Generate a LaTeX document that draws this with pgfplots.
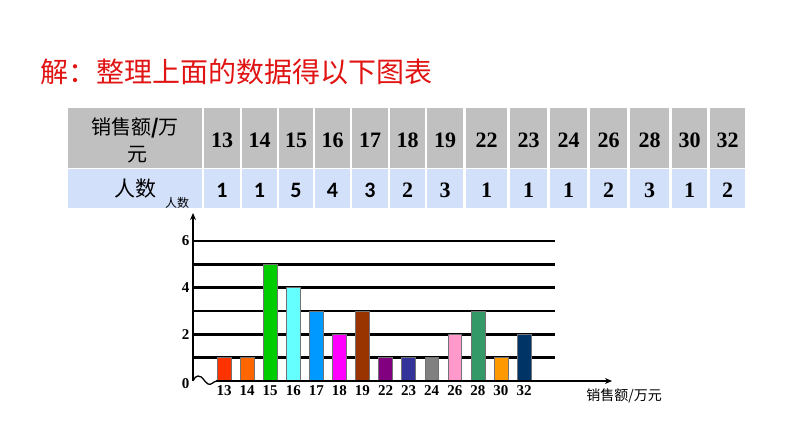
\documentclass[border=0pt]{standalone}
\usepackage{pgfplots}
\pgfplotsset{compat=1.18}
\usepackage{fontspec}
\setmainfont{Liberation Serif}
\newfontfamily\cjk{Noto Sans CJK SC}
\newfontfamily\calb{Carlito}
\usetikzlibrary{arrows.meta}
\definecolor{c0}{RGB}{255,51,0}
\definecolor{c1}{RGB}{255,102,0}
\definecolor{c2}{RGB}{0,204,0}
\definecolor{c3}{RGB}{102,255,255}
\definecolor{c4}{RGB}{0,153,255}
\definecolor{c5}{RGB}{255,0,255}
\definecolor{c6}{RGB}{153,51,0}
\definecolor{c7}{RGB}{128,0,128}
\definecolor{c8}{RGB}{51,51,153}
\definecolor{c9}{RGB}{128,128,128}
\definecolor{c10}{RGB}{255,153,204}
\definecolor{c11}{RGB}{51,153,102}
\definecolor{c12}{RGB}{255,153,0}
\definecolor{c13}{RGB}{0,51,102}
\definecolor{tgray}{RGB}{192,192,192}
\definecolor{tblue}{RGB}{210,224,250}
\definecolor{tred}{RGB}{225,20,20}
\begin{document}
\begin{tikzpicture}
\path[use as bounding box] (0,0) rectangle (794pt,447pt);
% title
\node[anchor=west, text=tred, font=\cjk\fontsize{28}{28}\selectfont, inner sep=0pt] at (40pt,375pt) {解：整理上面的数据得以下图表};
% table
\fill[tgray] (68pt,279pt) rectangle (202pt,339pt);
\fill[tblue] (68pt,239pt) rectangle (202pt,278pt);
\node[font=\cjk\fontsize{20}{20}\selectfont, inner sep=0pt] at (135pt,319pt) {销售额\textbf{/}万};
\node[font=\cjk\fontsize{20}{20}\selectfont, inner sep=0pt] at (137pt,292pt) {元};
\node[font=\cjk\fontsize{21}{21}\selectfont, inner sep=0pt] at (135pt,258pt) {人数};
\foreach \l/\r/\h/\v/\f in {204/240/13/1/\calb, 242/277/14/1/\calb, 279/313/15/5/\calb, 315/350/16/4/\calb, 352/388/17/3/\calb, 390/425/18/2/\rmfamily, 427/463/19/3/\rmfamily, 466/507/22/1/\rmfamily, 510/547/23/1/\rmfamily, 550/587/24/1/\rmfamily, 590/627/26/2/\rmfamily, 630/669/28/3/\rmfamily, 672/707/30/1/\rmfamily, 710/745/32/2/\rmfamily}{
  \fill[tgray] (\l pt,279pt) rectangle (\r pt,339pt);
  \fill[tblue] (\l pt,239pt) rectangle (\r pt,278pt);
  \node[font=\bfseries\fontsize{22}{22}\selectfont, inner sep=0pt] at ({(\l+\r)/2*1pt},307pt) {\h};
  \node[font=\f\bfseries\fontsize{22}{22}\selectfont, inner sep=0pt] at ({(\l+\r)/2*1pt},257pt) {\v};
}
% chart
\begin{axis}[
  at={(193pt,66pt)}, anchor=south west, scale only axis,
  width=362pt, height=168pt,
  xmin=-1.343, xmax=14.34, ymin=0, ymax=7.2,
  axis y line=left, axis x line=bottom,
  x axis line style={draw=none},
  y axis line style={line width=1.5pt, -{Stealth[length=7pt,width=6pt]}},
  xtick={0,...,13},
  xticklabels={13,14,15,16,17,18,19,22,23,24,26,28,30,32},
  ytick={1,...,6}, yticklabels={{},2,{},4,{},6},
  extra y ticks={0}, extra y tick labels={0},
  extra y tick style={grid=none, yticklabel style={yshift=-3pt}},
  major tick length=0pt,
  ymajorgrids, grid style={black, line width=2.6pt},
  tick label style={font=\bfseries\fontsize{15}{15}\selectfont},
  xticklabel style={yshift=-1pt},
  /pgf/number format/assume math mode=true,
  clip=false,
  ybar, bar width=0.6,
  every axis plot/.append style={bar shift=0pt, draw=black!55, line width=0.6pt},
]
\addplot[fill=c0] coordinates {(0,1)};
\addplot[fill=c1] coordinates {(1,1)};
\addplot[fill=c2] coordinates {(2,5)};
\addplot[fill=c3] coordinates {(3,4)};
\addplot[fill=c4] coordinates {(4,3)};
\addplot[fill=c5] coordinates {(5,2)};
\addplot[fill=c6] coordinates {(6,3)};
\addplot[fill=c7] coordinates {(7,1)};
\addplot[fill=c8] coordinates {(8,1)};
\addplot[fill=c9] coordinates {(9,1)};
\addplot[fill=c10] coordinates {(10,2)};
\addplot[fill=c11] coordinates {(11,3)};
\addplot[fill=c12] coordinates {(12,1)};
\addplot[fill=c13] coordinates {(13,2)};
\end{axis}
% x axis with break
\draw[line width=1.6pt, -{Stealth[length=7pt,width=6pt]}] (216pt,66pt) -- (612pt,66pt);
\draw[line width=1.3pt] (193.5pt,67pt) to[out=60,in=180] (198pt,71pt) to[out=0,in=150] (208pt,63pt) to[out=-30,in=180] (217pt,66pt);
\node[font=\cjk\fontsize{12}{12}\selectfont, inner sep=0pt] at (177pt,244pt) {人数};
\node[font=\cjk\fontsize{14}{14}\selectfont, inner sep=0pt] at (624pt,51pt) {销售额/万元};
\end{tikzpicture}
\end{document}
